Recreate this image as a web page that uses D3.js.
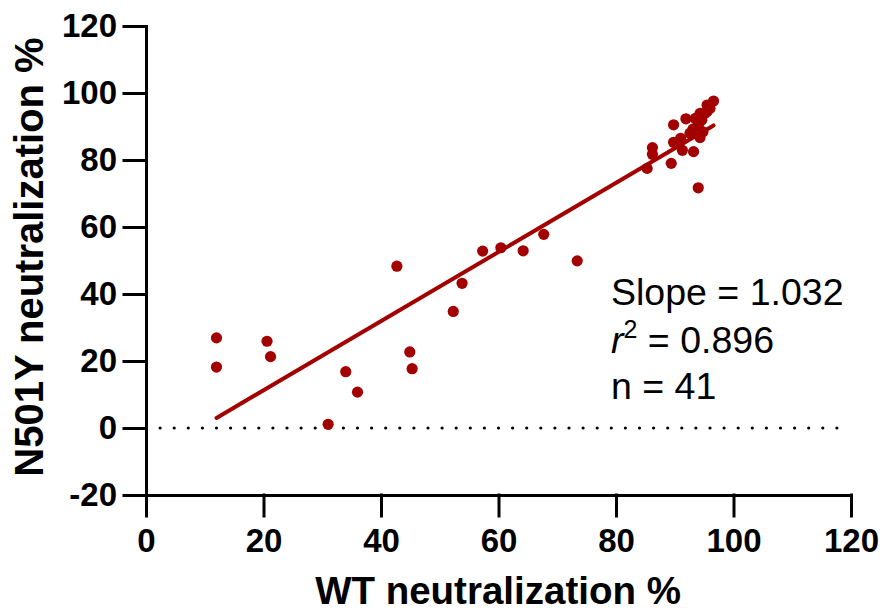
<!DOCTYPE html>
<html>
<head>
<meta charset="utf-8">
<script src="https://cdn.jsdelivr.net/npm/d3@7"></script>
<style>
  html, body { margin: 0; padding: 0; background: #fff; }
  svg text { font-family: "Liberation Sans", Arial, sans-serif; }
</style>
</head>
<body>
<div class="chart"></div>
<script>
(function() {
  'use strict';

  // WT vs N501Y neutralization (%), one pair per sample
  const wtValues = [
    12.0, 12.0, 20.6, 21.2, 31.0, 34.0, 36.0,
    42.7, 44.9, 45.3, 52.3, 53.8, 57.3, 60.4, 64.2, 67.7, 73.4,
    85.3, 86.2, 86.2, 89.4, 89.8, 89.8, 91.0, 91.3, 91.9, 93.2, 93.1,
    93.5, 94.0, 94.0, 94.3, 94.6, 94.8, 95.1, 95.5, 96.0, 96.6,
    95.5, 92.6, 94.3
  ];
  const n501yValues = [
    26.9, 18.2, 25.9, 21.3, 1.1, 16.8, 10.7,
    48.3, 22.7, 17.7, 34.8, 43.2, 52.8, 53.8, 52.9, 57.8, 49.9,
    77.5, 81.7, 83.7, 79.0, 85.3, 90.5, 86.5, 82.9, 92.3, 82.5, 89.2,
    92.4, 71.7, 90.4, 86.7, 91.9, 88.4, 93.9, 96.4, 95.4, 97.6,
    94.5, 88.0, 93.9
  ];

  const xTicks = [0, 20, 40, 60, 80, 100, 120];
  const yTicks = [-20, 0, 20, 40, 60, 80, 100, 120];

  const fitSlope = 1.032,
        fitIntercept = -9.38,
        fitRange = [12.0, 96.6];

  const statLines = ['Slope = 1.032', 'r2 = 0.896', 'n = 41'];

  let width = 883,
      height = 613,
      red = '#a30000',
      plain = d => String(d),   // hyphen minus like the original, not U+2212

      svg = d3.select('.chart')
        .append('svg')
        .attr('width', width)
        .attr('height', height),

      x = d3.scaleLinear().domain([0, 120]).range([146, 851]),
      y = d3.scaleLinear().domain([-20, 120]).range([495, 26]);

  // axes
  let xAxis = svg.append('g')
    .attr('transform', `translate(0,${y(-20)})`)
    .call(d3.axisBottom(x).tickValues(xTicks).tickFormat(plain)
      .tickSize(21).tickPadding(13).tickSizeOuter(0));

  let yAxis = svg.append('g')
    .attr('transform', `translate(${x(0)},0)`)
    .call(d3.axisLeft(y).tickValues(yTicks).tickFormat(plain)
      .tickSize(22).tickPadding(7).tickSizeOuter(0));

  [xAxis, yAxis].forEach(a => {
    a.selectAll('path, line')
      .attr('stroke', '#000')
      .attr('stroke-width', 3)
      .attr('stroke-linecap', 'square');
    a.selectAll('text')
      .attr('fill', '#000')
      .style('font-size', '33px')
      .style('font-weight', 'bold');
  });

  // dotted zero line
  svg.append('line')
    .attr('x1', x(2.4))
    .attr('x2', x(118.2))
    .attr('y1', y(0))
    .attr('y2', y(0))
    .attr('stroke', '#000')
    .attr('stroke-width', 3.2)
    .attr('stroke-linecap', 'round')
    .attr('stroke-dasharray', '0 14.1');

  // regression line
  svg.append('line')
    .attr('x1', x(fitRange[0]))
    .attr('y1', y(fitSlope * fitRange[0] + fitIntercept))
    .attr('x2', x(fitRange[1]))
    .attr('y2', y(fitSlope * fitRange[1] + fitIntercept))
    .attr('stroke', red)
    .attr('stroke-width', 4)
    .attr('stroke-linecap', 'round');

  // points
  svg.selectAll('circle.pt')
    .data(wtValues.map((v, i) => [v, n501yValues[i]]))
    .enter()
    .append('circle')
      .attr('class', 'pt')
      .attr('cx', d => x(d[0]))
      .attr('cy', d => y(d[1]))
      .attr('r', 5.6)
      .attr('fill', red);

  // axis titles
  svg.append('text')
    .attr('x', 498)
    .attr('y', 604)
    .attr('text-anchor', 'middle')
    .style('font-size', '38.5px')
    .style('font-weight', 'bold')
    .text('WT neutralization %');

  svg.append('text')
    .attr('transform', 'translate(43,257) rotate(-90)')
    .attr('text-anchor', 'middle')
    .style('font-size', '40px')
    .style('font-weight', 'bold')
    .text('N501Y neutralization %');

  // stats block
  let stats = svg.append('g')
    .style('font-size', '37.5px');

  stats.append('text')
    .attr('x', 611)
    .attr('y', 305)
    .text(statLines[0]);

  let r2 = stats.append('text')
    .attr('x', 611)
    .attr('y', 353);
  r2.append('tspan').style('font-style', 'italic').text('r');
  r2.append('tspan')
    .attr('dy', -15)
    .style('font-size', '25px')
    .text('2');
  r2.append('tspan')
    .attr('dy', 15)
    .text(statLines[1].slice(2));

  stats.append('text')
    .attr('x', 611)
    .attr('y', 399)
    .text(statLines[2]);

})();
</script>
</body>
</html>
